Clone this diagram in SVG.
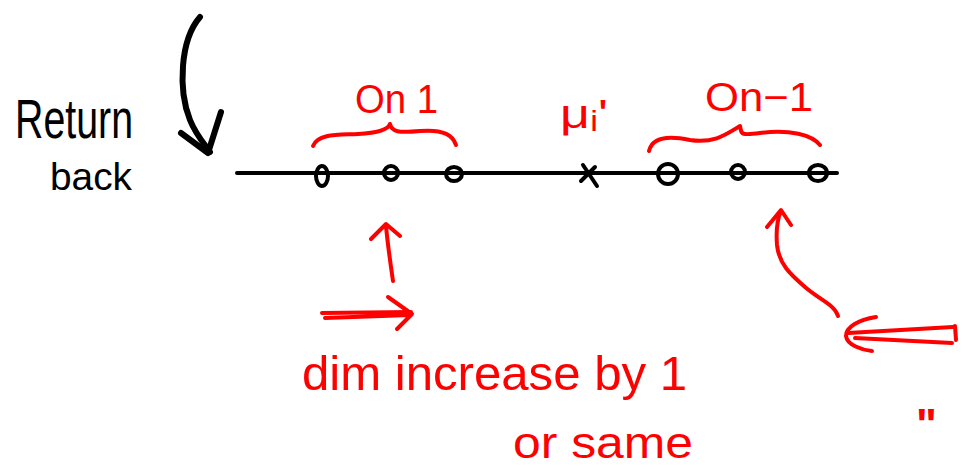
<svg xmlns="http://www.w3.org/2000/svg" width="962" height="474" viewBox="0 0 962 474">
<style>
.ink{fill:none;stroke:#000;stroke-width:4;stroke-linecap:round;stroke-linejoin:round}
.bold{stroke-width:6}
.red{fill:none;stroke:#ff0000;stroke-width:4;stroke-linecap:round;stroke-linejoin:round}
.tb{font-family:"Liberation Sans",Arial,sans-serif;fill:#000}
.tr{font-family:"Liberation Sans",Arial,sans-serif;fill:#ff0000}
</style>
<rect width="962" height="474" fill="#fff"/>
<g id="label-return">
<text class="tb" x="15" y="138" font-size="56" textLength="118" lengthAdjust="spacingAndGlyphs">Return</text>
<text class="tb" x="50" y="190" font-size="38" textLength="82" lengthAdjust="spacingAndGlyphs">back</text>
</g>
<g id="axis">
<line class="ink" x1="237" y1="173" x2="837" y2="173"/>
<ellipse class="ink" cx="322" cy="176" rx="6" ry="10"/>
<ellipse class="ink" cx="391" cy="173" rx="7" ry="7"/>
<ellipse class="ink" cx="454" cy="174" rx="8" ry="7"/>
<path class="ink" d="M583 165 L597 186 M595 167 L581 181"/>
<ellipse class="ink" cx="668" cy="174" rx="10" ry="10"/>
<ellipse class="ink" cx="738" cy="172" rx="7" ry="7"/>
<ellipse class="ink" cx="818" cy="173" rx="9" ry="8"/>
</g>
<g id="group-left">
<path class="red" d="M313 146 C318 133 340 135 358 134 C375 133 388 130 390 124 C392 132 398 133 420 131 C445 129 453 136 456 145"/>
<text class="tr" x="355" y="113" font-size="40" textLength="83" lengthAdjust="spacingAndGlyphs">On 1</text>
</g>
<g id="mean">
<text class="tr" x="560" y="128" font-size="40" textLength="48" lengthAdjust="spacingAndGlyphs">μᵢ'</text>
</g>
<g id="group-right">
<path class="red" d="M649 151 C652 138 667 135 690 140 C715 144 728 133 740 126 C742 133 738 136 760 133 C790 129 812 135 820 145"/>
<text class="tr" x="705" y="111" font-size="40" textLength="108" lengthAdjust="spacingAndGlyphs">On−1</text>
</g>
<g id="note-dim">
<text class="tr" x="302" y="390" font-size="48" textLength="385" lengthAdjust="spacingAndGlyphs">dim increase by 1</text>
<text class="tr" x="513" y="458" font-size="44" textLength="180" lengthAdjust="spacingAndGlyphs">or same</text>
</g>
<g id="note-ditto">
<text class="tr" x="916" y="440" font-size="44" font-weight="bold">"</text>
</g>
<g id="connectors">
<path class="ink bold" d="M200 17 C180 40 178 90 190 120 C196 135 205 145 210 152"/>
<path class="ink bold" d="M181 133 L208 153 L221 112"/>
<path class="red" d="M393 281 C390 260 387 240 386 225 M371 239 L386 224 L400 236"/>
<path class="red" d="M322 313 L411 312 M325 318 L410 315 M388 297 L412 314 L397 329"/>
<path class="red" d="M838 316 C835 305 820 300 805 287 C790 274 779 264 777 245 C776 232 777 220 781 211 M767 227 L781 210 L791 225"/>
<path class="red" d="M953 327 L848 333 M952 343 L855 338 M955 326 L956 340 M876 317 C858 320 846 327 846 336 C847 345 862 350 872 351"/>
</g>
</svg>
